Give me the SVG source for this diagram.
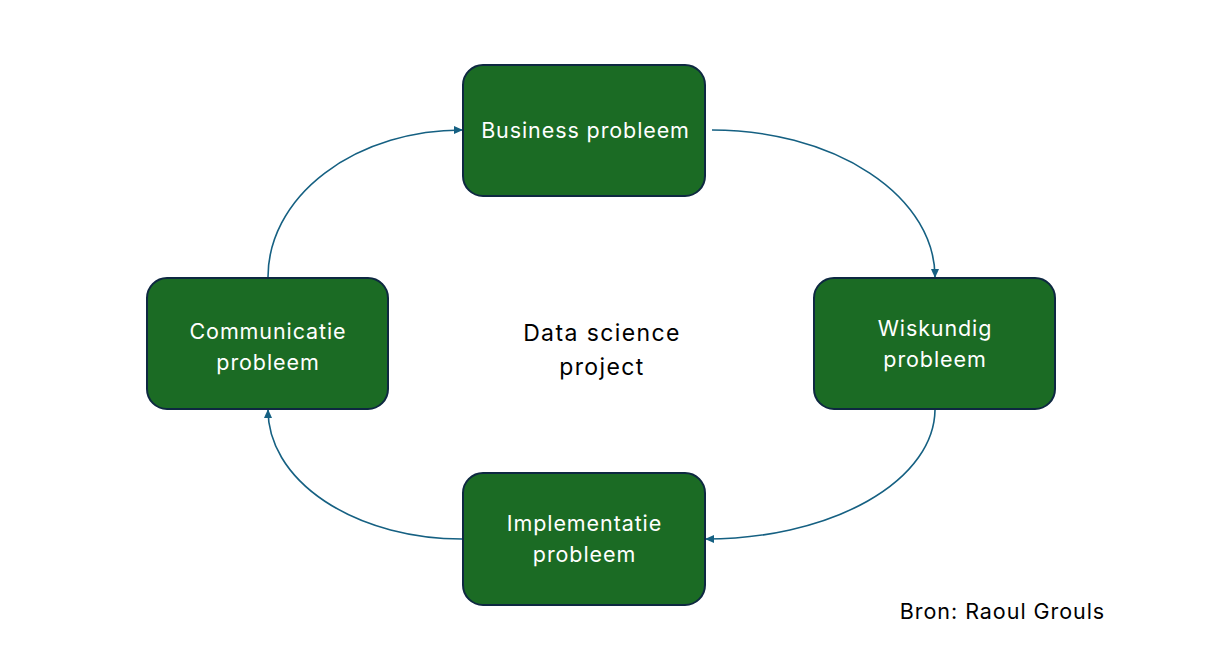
<svg xmlns="http://www.w3.org/2000/svg" width="1216" height="662" viewBox="0 0 1216 662">
<defs>
<style>
.box{fill:#1b6b24;stroke:#0e2841;stroke-width:2}
.lbl{font-family:Inter,"Liberation Sans",sans-serif;font-size:21.5px;letter-spacing:0.9px;fill:#ffffff;text-anchor:middle}
.plain{font-family:Inter,"Liberation Sans",sans-serif;fill:#000000;text-anchor:middle}
.conn{fill:none;stroke:#156082;stroke-width:1.6;marker-end:url(#ah)}
</style>
<marker id="ah" markerWidth="10" markerHeight="8" refX="8" refY="4" orient="auto" markerUnits="userSpaceOnUse">
<path d="M0,0 L9,4 L0,8 Z" fill="#156082"/>
</marker>
</defs>
<rect width="1216" height="662" fill="#ffffff"/>
<g id="connectors">
<path class="conn" d="M712,130 A223,147 0 0 1 935,277"/>
<path class="conn" d="M935,410 A229,130 0 0 1 706,539"/>
<path class="conn" d="M462,539 A194,129 0 0 1 268,410"/>
<path class="conn" d="M268,277 A194,147 0 0 1 462,130"/>
</g>
<g id="business">
<rect class="box" x="463" y="65" width="242" height="131" rx="20"/>
<text class="lbl" x="585.5" y="137.5">Business probleem</text>
</g>
<g id="wiskundig">
<rect class="box" x="814" y="278" width="241" height="131" rx="20"/>
<text class="lbl" x="935" y="335.5">Wiskundig</text>
<text class="lbl" x="935" y="366.5">probleem</text>
</g>
<g id="implementatie">
<rect class="box" x="463" y="473" width="242" height="132" rx="20"/>
<text class="lbl" x="584.5" y="530.5">Implementatie</text>
<text class="lbl" x="584.5" y="562">probleem</text>
</g>
<g id="communicatie">
<rect class="box" x="147" y="278" width="241" height="131" rx="20"/>
<text class="lbl" x="268" y="338.5">Communicatie</text>
<text class="lbl" x="268" y="369.5">probleem</text>
</g>
<g id="center">
<text class="plain" x="602" y="341" font-size="23" letter-spacing="1.4">Data science</text>
<text class="plain" x="602" y="375" font-size="23" letter-spacing="1.4">project</text>
</g>
<g id="source">
<text class="plain" x="1002.5" y="619" font-size="21.5" letter-spacing="0.95">Bron: Raoul Grouls</text>
</g>
</svg>
